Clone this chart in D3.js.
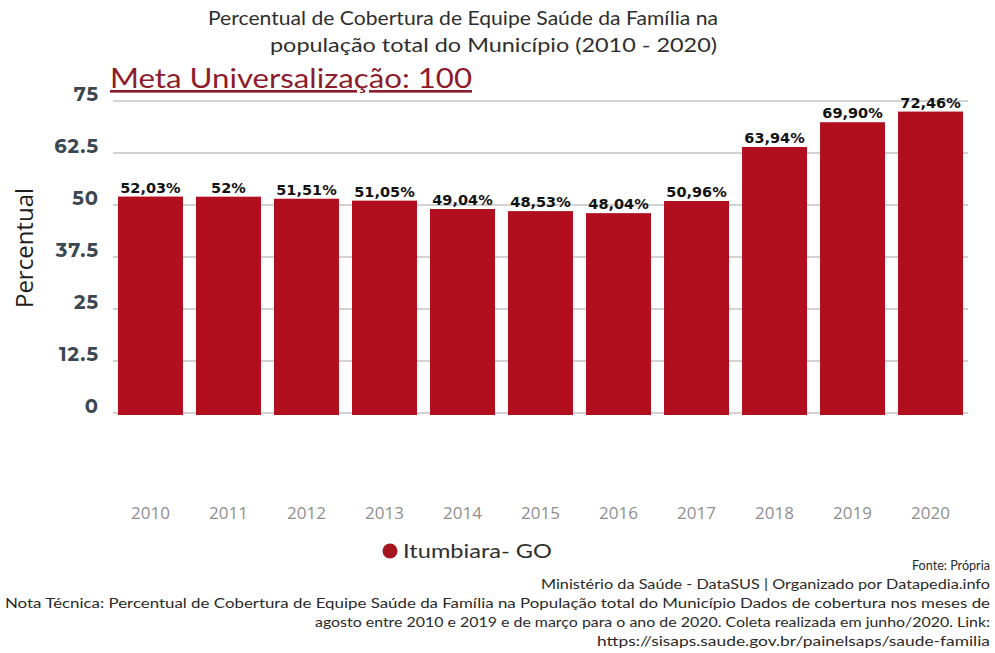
<!DOCTYPE html>
<html>
<head>
<meta charset="utf-8">
<script src="https://cdn.jsdelivr.net/npm/d3@7"></script>
<style>
  html, body { margin: 0; padding: 0; background: #ffffff; }
  svg { display: block; }
</style>
</head>
<body>
<svg id="chart" width="995" height="653"></svg>
<script>
// Cobertura da Equipe Saúde da Família — Itumbiara (GO), 2010–2020
const years = ["2010", "2011", "2012", "2013", "2014", "2015", "2016", "2017", "2018", "2019", "2020"];
const coverage = [52.03, 52.00, 51.51, 51.05, 49.04, 48.53, 48.04, 50.96, 63.94, 69.90, 72.46];
const valueLabels = ["52,03%", "52%", "51,51%", "51,05%", "49,04%", "48,53%", "48,04%", "50,96%", "63,94%", "69,90%", "72,46%"];
const yTicks = [0, 12.5, 25, 37.5, 50, 62.5, 75];
const titleLines = [
  "Percentual de Cobertura de Equipe Saúde da Família na",
  "população total do Município (2010 - 2020)"
];
const metaText = "Meta Universalização: 100";
const seriesName = "Itumbiara- GO";
const footerLines = [
  "Fonte: Própria",
  "Ministério da Saúde - DataSUS | Organizado por Datapedia.info",
  "Nota Técnica: Percentual de Cobertura de Equipe Saúde da Família na População total do Município Dados de cobertura nos meses de",
  "agosto entre 2010 e 2019 e de março para o ano de 2020. Coleta realizada em junho/2020. Link:",
  "https://sisaps.saude.gov.br/painelsaps/saude-familia"
];

const svg = d3.select("#chart");
const barColor = "#b10f1d";

const x = d3.scaleBand().domain(years).range([111.5, 969.5]).paddingInner(0.167).paddingOuter(0.083);
const y = d3.scaleLinear().domain([0, 75]).range([413, 101]);

// gridlines
svg.append("g")
  .selectAll("line")
  .data(yTicks)
  .join("line")
  .attr("x1", 113).attr("x2", 968)
  .attr("y1", d => y(d)).attr("y2", d => y(d))
  .attr("stroke", "#d2d2d2").attr("stroke-width", 2);

// y axis tick labels
const yAxis = d3.axisLeft(y).tickValues(yTicks).tickSize(0).tickPadding(0).tickFormat(d => String(d));
const gy = svg.append("g").attr("transform", "translate(99,-7)").call(yAxis);
gy.select(".domain").remove();
gy.selectAll("text")
  .attr("font-family", "Montserrat, 'Open Sans', sans-serif")
  .attr("font-weight", 700)
  .attr("font-size", 19.5)
  .attr("letter-spacing", 1)
  .attr("fill", "#3b4751");

// bars
svg.append("g")
  .selectAll("rect")
  .data(years)
  .join("rect")
  .attr("x", d => x(d))
  .attr("width", x.bandwidth())
  .attr("y", (d, i) => y(coverage[i]))
  .attr("height", (d, i) => y(0) - y(coverage[i]) + 2)
  .attr("fill", barColor);

// value labels
svg.append("g")
  .selectAll("text")
  .data(years)
  .join("text")
  .attr("x", d => x(d) + x.bandwidth() / 2)
  .attr("y", (d, i) => y(coverage[i]) - 4)
  .attr("text-anchor", "middle")
  .attr("font-family", "'DejaVu Sans', Verdana, sans-serif")
  .attr("font-weight", 700)
  .attr("font-size", 14.5)
  .attr("fill", "#111")
  .text((d, i) => valueLabels[i]);

// x axis year labels
const xAxis = d3.axisBottom(x).tickSize(0).tickPadding(0);
const gx = svg.append("g").attr("transform", "translate(0,519)").call(xAxis);
gx.select(".domain").remove();
gx.selectAll("text")
  .attr("dy", 0)
  .attr("font-family", "'Open Sans', sans-serif")
  .attr("font-size", 17)
  .attr("fill", "#8f8f8f");

// title
const titleFont = "Lato, 'Open Sans', sans-serif";
svg.append("text")
  .attr("x", 208).attr("y", 25)
  .attr("textLength", 510).attr("lengthAdjust", "spacingAndGlyphs")
  .attr("font-family", titleFont).attr("font-size", 19).attr("fill", "#2e2e2e")
  .text(titleLines[0]);
svg.append("text")
  .attr("x", 270).attr("y", 52)
  .attr("textLength", 447).attr("lengthAdjust", "spacingAndGlyphs")
  .attr("font-family", titleFont).attr("font-size", 19).attr("fill", "#2e2e2e")
  .text(titleLines[1]);

// goal annotation
svg.append("text")
  .attr("x", 110).attr("y", 88)
  .attr("textLength", 362).attr("lengthAdjust", "spacingAndGlyphs")
  .attr("font-family", titleFont).attr("font-size", 26).attr("fill", "#8c1c2c")
  .attr("text-decoration", "underline")
  .text(metaText);

// y axis title
svg.append("text")
  .attr("transform", "translate(33,248) rotate(-90)")
  .attr("text-anchor", "middle")
  .attr("font-family", "'Open Sans', sans-serif")
  .attr("font-size", 24).attr("fill", "#1e1e1e")
  .text("Percentual");

// legend
svg.append("circle").attr("cx", 390).attr("cy", 551).attr("r", 7.5).attr("fill", "#a3151f");
svg.append("text")
  .attr("x", 403).attr("y", 558)
  .attr("textLength", 149).attr("lengthAdjust", "spacingAndGlyphs")
  .attr("font-family", titleFont).attr("font-size", 19).attr("fill", "#2e2e2e")
  .text(seriesName);

// footer notes
const footerY = [570, 589, 608, 627, 646];
const footerW = [78, 449, 985, 675, 393];
svg.append("g")
  .selectAll("text")
  .data(footerLines)
  .join("text")
  .attr("x", 990)
  .attr("y", (d, i) => footerY[i])
  .attr("text-anchor", "end")
  .attr("textLength", (d, i) => footerW[i])
  .attr("lengthAdjust", "spacingAndGlyphs")
  .attr("font-family", titleFont)
  .attr("font-size", 12.5)
  .attr("fill", "#2a2a2a")
  .text(d => d);
</script>
</body>
</html>
